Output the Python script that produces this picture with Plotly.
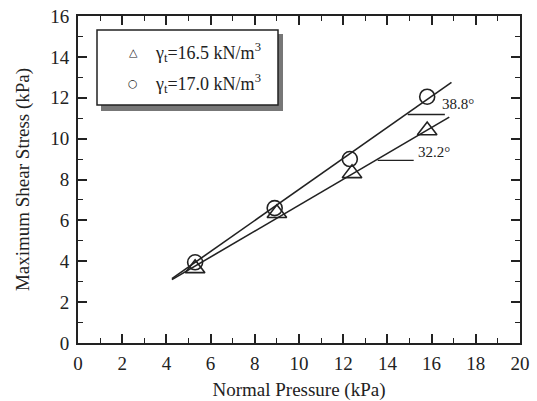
import plotly.graph_objects as go

# Data
pressure_a = [5.3, 9.0, 12.4, 15.8]
shear_a = [3.65, 6.35, 8.3, 10.4]      # gamma_t = 16.5 kN/m3 (triangles)
pressure_b = [5.3, 8.9, 12.3, 15.8]
shear_b = [3.95, 6.6, 9.0, 12.05]      # gamma_t = 17.0 kN/m3 (circles)

fit_x_a = [4.25, 16.8]
fit_y_a = [3.1, 11.05]
fit_x_b = [4.25, 16.9]
fit_y_b = [3.15, 12.75]

series_names = ["γ<sub>t</sub>=16.5 kN/m<sup>3</sup>", "γ<sub>t</sub>=17.0 kN/m<sup>3</sup>"]
angle_labels = ["32.2°", "38.8°"]
x_ticks = list(range(0, 21, 2))
y_ticks = list(range(0, 17, 2))

FONT = "Liberation Serif, Times New Roman, serif"
ink = "#222222"

fig = go.Figure()

fig.add_trace(go.Scatter(x=fit_x_a, y=fit_y_a, mode="lines",
                         line=dict(color=ink, width=1.6), showlegend=False, hoverinfo="skip"))
fig.add_trace(go.Scatter(x=fit_x_b, y=fit_y_b, mode="lines",
                         line=dict(color=ink, width=1.6), showlegend=False, hoverinfo="skip"))

fig.add_trace(go.Scatter(x=pressure_a, y=shear_a, mode="markers", name=series_names[0],
                         showlegend=False,
                         marker=dict(symbol="triangle-up-open", size=17, color=ink,
                                     line=dict(width=1.6, color=ink))))
fig.add_trace(go.Scatter(x=pressure_b, y=shear_b, mode="markers", name=series_names[1],
                         showlegend=False,
                         marker=dict(symbol="circle-open", size=15, color=ink,
                                     line=dict(width=1.6, color=ink))))

# angle indicator segments
fig.add_shape(type="line", x0=13.56, x1=15.19, y0=8.94, y1=8.94, line=dict(color=ink, width=1.3))
fig.add_shape(type="line", x0=14.92, x1=16.6, y0=11.18, y1=11.18, line=dict(color=ink, width=1.3))
fig.add_annotation(x=15.3, y=9.36, text=angle_labels[0], showarrow=False, xanchor="left",
                   font=dict(family=FONT, size=15, color=ink))
fig.add_annotation(x=16.4, y=11.7, text=angle_labels[1], showarrow=False, xanchor="left",
                   font=dict(family=FONT, size=15, color=ink))

# legend box (drawn) with shadow; page pixel -> paper fraction of plot area
W, H = 442.0, 327.0
def px(xp): return (xp - 78) / W
def py(yp): return (343 - yp) / H
fig.add_shape(type="rect", xref="paper", yref="paper", x0=px(101), x1=px(283), y0=py(111), y1=py(34),
              fillcolor="#777777", line=dict(width=0))
fig.add_shape(type="rect", xref="paper", yref="paper", x0=px(97), x1=px(278), y0=py(105), y1=py(30),
              fillcolor="white", line=dict(color=ink, width=1.5))
legend_symbols = ["△", "○"]
for i, (sym, name) in enumerate(zip(legend_symbols, series_names)):
    yy = py(52 + 31.5 * i)
    fig.add_annotation(xref="paper", yref="paper", x=px(133), y=yy, text=sym, showarrow=False,
                       xanchor="center", yanchor="middle",
                       font=dict(family="DejaVu Sans", size=11, color=ink))
    fig.add_annotation(xref="paper", yref="paper", x=px(153), y=yy, text=name, showarrow=False,
                       xanchor="left", yanchor="middle",
                       font=dict(family=FONT, size=18, color=ink))

axis_common = dict(showline=True, linecolor=ink, linewidth=2, mirror="ticks",
                   ticks="inside", ticklen=9, tickwidth=1.6, tickcolor=ink,
                   showgrid=False, zeroline=False, automargin=False,
                   ticklabeloverflow="allow",
                   minor=dict(ticks="inside", ticklen=5, tickwidth=1.4, tickcolor=ink, dtick=1),
                   tickfont=dict(family=FONT, size=19, color=ink),
                   title_font=dict(family=FONT, size=19, color=ink))

fig.update_xaxes(range=[0, 20], tickvals=x_ticks, title_text="Normal Pressure (kPa)",
                 ticklabelstandoff=2, title_standoff=14, **axis_common)
fig.update_yaxes(range=[0, 16], tickvals=y_ticks, title_text="Maximum Shear Stress (kPa)",
                 ticklabelstandoff=3, title_standoff=16, **axis_common)

fig.update_layout(
    width=537, height=401,
    margin=dict(l=78, r=17, t=16, b=58),
    plot_bgcolor="white", paper_bgcolor="white",
    font=dict(family=FONT, color=ink),
    showlegend=False,
)

fig.write_html("out.html", config={"displayModeBar": False},
               post_script="document.body.style.margin='0';")
